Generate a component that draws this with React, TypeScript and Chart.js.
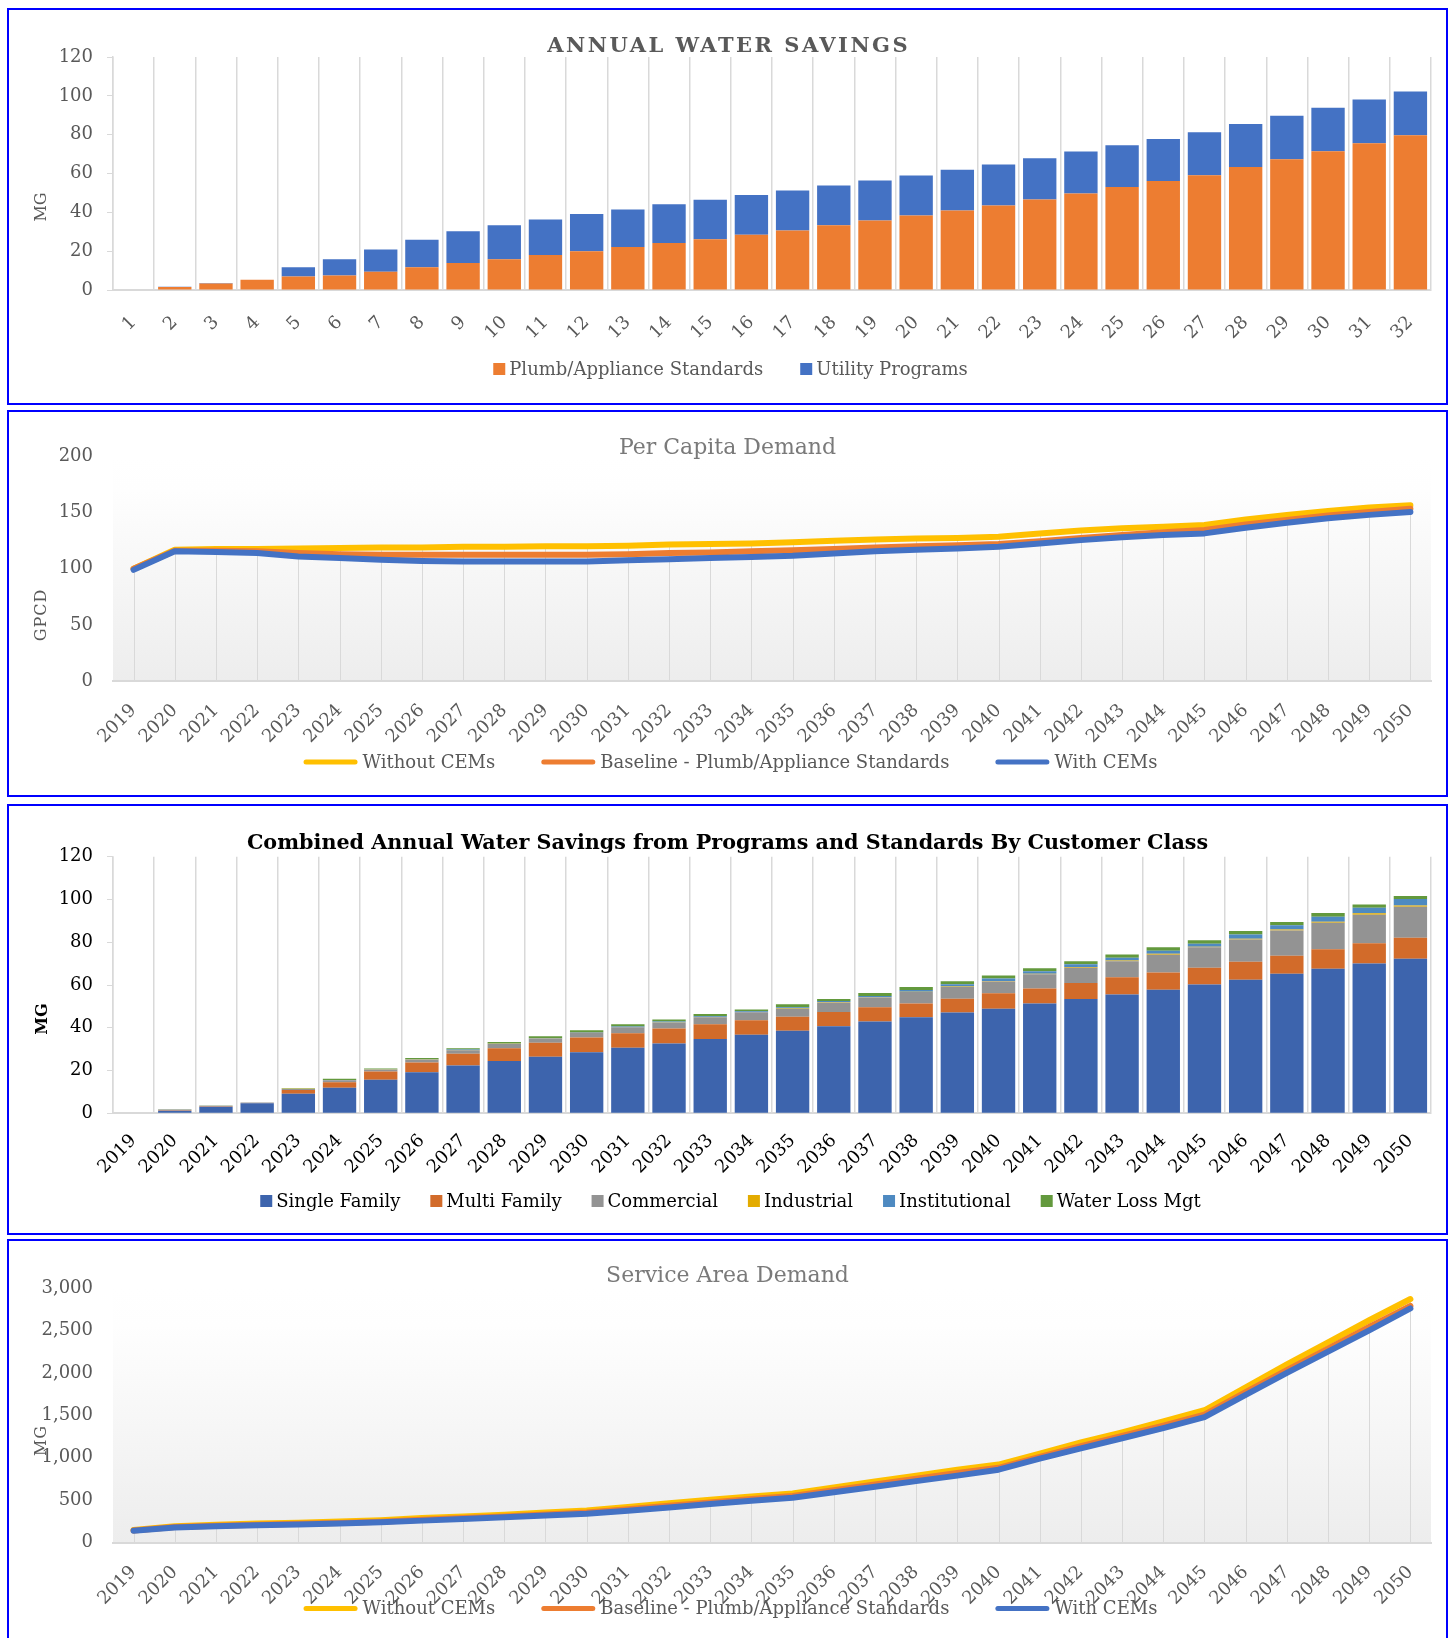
import React, { useEffect, useRef } from 'react';
import { Chart, registerables } from 'chart.js';

Chart.register(...registerables);

const FONT = "'DejaVu Serif', serif";

// ---------- Chart 1: Annual Water Savings ----------
const annualCategories = ['1', '2', '3', '4', '5', '6', '7', '8', '9', '10', '11', '12', '13', '14', '15', '16',
  '17', '18', '19', '20', '21', '22', '23', '24', '25', '26', '27', '28', '29', '30', '31', '32'];
const plumbStandards = [0, 1.5, 3.4, 5.3, 7.0, 7.5, 9.4, 11.7, 13.9, 15.8, 18.0, 19.9, 22.1, 24.2, 26.2, 28.5,
  30.7, 33.3, 35.8, 38.4, 41.0, 43.5, 46.6, 49.7, 53.0, 56.1, 59.1, 63.3, 67.4, 71.5, 75.6, 79.7];
const utilityPrograms = [0, 0.2, 0.2, 0, 4.7, 8.4, 11.5, 14.2, 16.4, 17.6, 18.3, 19.2, 19.4, 20.0, 20.3, 20.4,
  20.6, 20.5, 20.6, 20.6, 20.9, 21.1, 21.3, 21.6, 21.6, 21.7, 22.2, 22.2, 22.3, 22.4, 22.5, 22.5];

// ---------- Shared year labels ----------
const years = ['2019', '2020', '2021', '2022', '2023', '2024', '2025', '2026', '2027', '2028', '2029', '2030',
  '2031', '2032', '2033', '2034', '2035', '2036', '2037', '2038', '2039', '2040', '2041', '2042', '2043', '2044',
  '2045', '2046', '2047', '2048', '2049', '2050'];

// ---------- Chart 2: Per Capita Demand (GPCD) ----------
const gpcdWithoutCEMs = [100, 117, 117.5, 117.5, 118, 118.5, 119, 119, 119.5, 119.5, 120, 120, 120.5, 121.5, 122, 122.5,
  123.5, 125, 126, 127, 127.5, 128.5, 131.5, 134, 136, 137.5, 139, 144, 148, 151.5, 154.5, 156.5];
const gpcdBaseline = [100, 116, 116, 115.5, 114, 113, 112.5, 112.5, 112.5, 112.5, 112.5, 112.5, 113, 114, 114.5, 115.5,
  116.5, 117.5, 119, 120, 121, 122, 124.5, 127.5, 130, 132.5, 134.5, 139.5, 143.5, 147.5, 150.5, 153.5];
const gpcdWithCEMs = [99, 115.5, 115, 114, 111, 109.5, 108, 107, 106.5, 106.5, 106.5, 106.5, 107.5, 108.5, 109.5, 110.5,
  111.5, 113.5, 115.5, 117, 118, 119.5, 122.5, 125.5, 128, 130, 131.5, 136.5, 141, 145, 148, 150.5];

// ---------- Chart 3: Savings by Customer Class ----------
const singleFamily = [0, 1.25, 3.1, 4.7, 9.2, 12.0, 15.7, 19.2, 22.3, 24.5, 26.5, 28.5, 30.7, 32.7, 34.8, 36.7,
  38.6, 40.7, 42.9, 44.9, 47.1, 48.9, 51.3, 53.5, 55.6, 57.8, 60.2, 62.5, 65.3, 67.6, 70.0, 72.3];
const multiFamily = [0, 0.2, 0.2, 0.1, 1.7, 2.5, 3.9, 4.5, 5.6, 5.9, 6.5, 7.0, 6.7, 6.9, 6.8, 6.8,
  6.6, 6.7, 6.7, 6.5, 6.5, 7.2, 7.1, 7.4, 8.0, 8.0, 7.9, 8.4, 8.4, 9.1, 9.5, 9.8];
const commercial = [0, 0.3, 0.2, 0.2, 0.5, 0.9, 0.8, 1.4, 1.6, 2.0, 1.9, 2.1, 2.8, 2.8, 3.3, 3.7,
  3.6, 4.3, 4.5, 5.3, 5.5, 5.5, 6.6, 7.2, 7.5, 8.4, 9.5, 10.4, 11.8, 12.4, 13.4, 14.5];
const industrial = [0, 0, 0, 0, 0.05, 0.1, 0.1, 0.1, 0.1, 0.1, 0.1, 0.1, 0.1, 0.1, 0.1, 0.1,
  0.2, 0.2, 0.2, 0.2, 0.2, 0.3, 0.3, 0.3, 0.3, 0.4, 0.3, 0.3, 0.4, 0.5, 0.6, 0.6];
const institutional = [0, 0, 0, 0, 0.05, 0.1, 0.1, 0.1, 0.2, 0.2, 0.2, 0.3, 0.3, 0.4, 0.4, 0.4,
  0.6, 0.6, 0.6, 0.8, 1.0, 1.1, 1.1, 1.3, 1.3, 1.4, 1.4, 2.0, 2.0, 2.3, 2.6, 3.0];
const waterLossMgt = [0, 0.15, 0.1, 0.1, 0.2, 0.5, 0.4, 0.6, 0.6, 0.6, 0.8, 0.8, 1.0, 1.0, 1.0, 0.9,
  1.4, 1.0, 1.4, 1.4, 1.4, 1.5, 1.4, 1.4, 1.6, 1.6, 1.6, 1.6, 1.6, 1.8, 1.6, 1.4];

// ---------- Chart 4: Service Area Demand (MG) ----------
const demandWithoutCEMs = [150, 195, 210, 225, 235, 250, 265, 290, 310, 330, 355, 380, 420, 465, 505, 545,
  580, 650, 720, 790, 860, 920, 1050, 1180, 1300, 1430, 1560, 1830, 2100, 2360, 2620, 2870];
const demandBaseline = [145, 185, 200, 212, 222, 233, 248, 270, 290, 310, 332, 355, 393, 435, 475, 515,
  550, 617, 685, 753, 820, 882, 1012, 1137, 1257, 1380, 1508, 1772, 2032, 2287, 2542, 2790];
const demandWithCEMs = [140, 180, 195, 205, 215, 225, 240, 260, 280, 300, 320, 340, 375, 415, 455, 495,
  530, 595, 660, 725, 790, 860, 990, 1110, 1230, 1350, 1480, 1740, 2000, 2250, 2500, 2760];

// ---------- plugins ----------
type TextItem = {
  text: string; x: number; y: number; font: string; color: string;
  rotation?: number; letterSpacing?: number; baseline?: CanvasTextBaseline;
};

function makeOverlayText(items: TextItem[]) {
  return {
    id: 'overlayText',
    afterDraw(chart: any) {
      const ctx = chart.ctx as CanvasRenderingContext2D;
      items.forEach((it) => {
        ctx.save();
        ctx.font = it.font;
        ctx.fillStyle = it.color;
        ctx.textAlign = 'center';
        ctx.textBaseline = it.baseline || 'alphabetic';
        if (it.letterSpacing) (ctx as any).letterSpacing = it.letterSpacing + 'px';
        ctx.translate(it.x + (it.letterSpacing && !it.rotation ? it.letterSpacing / 2 : 0), it.y);
        if (it.rotation) ctx.rotate(it.rotation);
        ctx.fillText(it.text, 0, 0);
        ctx.restore();
      });
    },
  };
}

type LegendCfg = {
  y: number; cx: number; box: number; boxH: number; gap: number; spacing: number;
  font: string; color: string; kind: 'bar' | 'line';
};

function makeLegend(cfg: LegendCfg) {
  return {
    id: 'customLegend',
    afterDraw(chart: any) {
      const ctx = chart.ctx as CanvasRenderingContext2D;
      ctx.save();
      ctx.font = cfg.font;
      const items = chart.data.datasets.map((ds: any) => ({
        text: ds.label as string,
        color: (cfg.kind === 'line' ? ds.borderColor : ds.backgroundColor) as string,
        w: ctx.measureText(ds.label).width,
      }));
      const total = items.reduce((s: number, it: any) => s + cfg.box + cfg.gap + it.w, 0) + cfg.spacing * (items.length - 1);
      let x = cfg.cx - total / 2;
      ctx.textBaseline = 'middle';
      ctx.textAlign = 'left';
      items.forEach((it: any) => {
        ctx.fillStyle = it.color;
        if (cfg.kind === 'line') {
          ctx.strokeStyle = it.color;
          ctx.lineWidth = cfg.boxH;
          ctx.lineCap = 'round';
          ctx.beginPath();
          ctx.moveTo(x + cfg.boxH / 2, cfg.y);
          ctx.lineTo(x + cfg.box - cfg.boxH / 2, cfg.y);
          ctx.stroke();
        } else {
          ctx.fillRect(x, cfg.y - cfg.boxH / 2, cfg.box, cfg.boxH);
        }
        ctx.fillStyle = cfg.color;
        ctx.fillText(it.text, x + cfg.box + cfg.gap, cfg.y + 1);
        x += cfg.box + cfg.gap + it.w + cfg.spacing;
      });
      ctx.restore();
    },
  };
}

const dropLinesPlugin = {
  id: 'dropLines',
  beforeDatasetsDraw(chart: any) {
    const { ctx, scales } = chart;
    const x = scales.x;
    const y = scales.y;
    const n = chart.data.labels.length;
    ctx.save();
    ctx.strokeStyle = '#d9d9d9';
    ctx.lineWidth = 1;
    for (let i = 0; i < n; i++) {
      let maxV = -Infinity;
      chart.data.datasets.forEach((ds: any) => {
        const v = ds.data[i];
        if (v > maxV) maxV = v;
      });
      const px = Math.round(x.getPixelForValue(i)) + 0.5;
      ctx.beginPath();
      ctx.moveTo(px, y.getPixelForValue(maxV));
      ctx.lineTo(px, y.getPixelForValue(0));
      ctx.stroke();
    }
    ctx.restore();
  },
};

const plotGradientPlugin = {
  id: 'plotGradient',
  beforeDraw(chart: any) {
    const { ctx, chartArea: a } = chart;
    const g = ctx.createLinearGradient(0, a.top, 0, a.bottom);
    g.addColorStop(0, '#ffffff');
    g.addColorStop(0.15, '#fefefe');
    g.addColorStop(1, '#ededed');
    ctx.save();
    ctx.fillStyle = g;
    ctx.fillRect(a.left, a.top, a.right - a.left, a.bottom - a.top);
    ctx.restore();
  },
};

const W = 1437;
const PAD_X = 15;
const Y_AXIS_W = 89;
const LEGEND_CX = 721.5;

function xAxisFit(h: number) {
  return (s: any) => {
    s.height = h;
    s.paddingLeft = 0;
    s.paddingRight = 0;
  };
}
function yAxisFit(s: any) {
  s.width = Y_AXIS_W;
}

const tickFont = { family: FONT, size: 18 };
const X_H = 80;

// ---------- configs ----------
function annualConfig(): any {
  const H = 393;
  return {
    type: 'bar',
    data: {
      labels: annualCategories,
      datasets: [
        { label: 'Plumb/Appliance Standards', data: plumbStandards, backgroundColor: '#ED7D31', stack: 's' },
        { label: 'Utility Programs', data: utilityPrograms, backgroundColor: '#4472C4', stack: 's' },
      ],
    },
    options: {
      animation: false, responsive: false, devicePixelRatio: 1, events: [],
      datasets: { bar: { barPercentage: 0.81, categoryPercentage: 1 } },
      layout: { padding: { left: PAD_X, right: PAD_X, top: 47, bottom: H - 280 - X_H } },
      scales: {
        x: {
          stacked: true,
          grid: { color: '#d9d9d9', lineWidth: 1.5, drawTicks: false, offset: true },
          border: { color: '#d9d9d9', width: 2 },
          ticks: { color: '#595959', font: tickFont, minRotation: 45, maxRotation: 45, padding: 22, autoSkip: false },
          afterFit: xAxisFit(X_H),
        },
        y: {
          stacked: true, min: 0, max: 120,
          ticks: { stepSize: 20, color: '#595959', font: tickFont, padding: 14 },
          grid: { display: true, drawOnChartArea: false, drawTicks: true, tickLength: 6, color: '#d9d9d9' },
          border: { color: '#d9d9d9', width: 1.5 },
          afterFit: yAxisFit,
        },
      },
      plugins: { tooltip: { enabled: false }, legend: { display: false } },
    },
    plugins: [
      makeOverlayText([
        { text: 'ANNUAL WATER SAVINGS', x: W / 2, y: 42, font: `bold 21px ${FONT}`, color: '#595959', letterSpacing: 2.5 },
        { text: 'MG', x: 33, y: 197, font: `16px ${FONT}`, color: '#595959', rotation: -Math.PI / 2, baseline: 'middle' },
      ]),
      makeLegend({ y: 359, cx: LEGEND_CX, box: 12, boxH: 12, gap: 4, spacing: 37, font: `18px ${FONT}`, color: '#595959', kind: 'bar' }),
    ],
  };
}

function lineConfig(opts: {
  withoutData: number[]; baselineData: number[]; withData: number[];
  max: number; step: number; top: number; bottom: number; H: number; legendY: number;
  title: string; titleY: number; axisTitle: string; axisTitleY: number;
}): any {
  const common = { pointRadius: 0, borderWidth: 6, tension: 0, borderJoinStyle: 'round', borderCapStyle: 'round', fill: false };
  return {
    type: 'line',
    data: {
      labels: years,
      datasets: [
        { label: 'Without CEMs', data: opts.withoutData, borderColor: '#FFC000', backgroundColor: '#FFC000', order: 3, ...common },
        { label: 'Baseline - Plumb/Appliance Standards', data: opts.baselineData, borderColor: '#ED7D31', backgroundColor: '#ED7D31', order: 2, ...common },
        { label: 'With CEMs', data: opts.withData, borderColor: '#4472C4', backgroundColor: '#4472C4', order: 1, ...common },
      ],
    },
    options: {
      animation: false, responsive: false, devicePixelRatio: 1, events: [],
      layout: { padding: { left: PAD_X, right: PAD_X, top: opts.top, bottom: opts.H - opts.bottom - X_H } },
      scales: {
        x: {
          offset: true,
          grid: { display: false, drawTicks: false },
          border: { color: '#d9d9d9', width: 2 },
          ticks: { color: '#595959', font: tickFont, minRotation: 45, maxRotation: 45, padding: 19, autoSkip: false },
          afterFit: xAxisFit(X_H),
        },
        y: {
          min: 0, max: opts.max,
          ticks: { stepSize: opts.step, color: '#595959', font: tickFont, padding: 20 },
          grid: { display: false, drawTicks: false },
          border: { display: false },
          afterFit: yAxisFit,
        },
      },
      plugins: { tooltip: { enabled: false }, legend: { display: false } },
    },
    plugins: [
      plotGradientPlugin,
      dropLinesPlugin,
      makeOverlayText([
        { text: opts.title, x: W / 2, y: opts.titleY, font: `22px ${FONT}`, color: '#7a7a7a' },
        { text: opts.axisTitle, x: 33, y: opts.axisTitleY, font: `16px ${FONT}`, color: '#595959', rotation: -Math.PI / 2, baseline: 'middle', letterSpacing: 1 },
      ]),
      makeLegend({ y: opts.legendY, cx: LEGEND_CX, box: 54, boxH: 5, gap: 5, spacing: 46, font: `18px ${FONT}`, color: '#595959', kind: 'line' }),
    ],
  };
}

function customerConfig(): any {
  const H = 427;
  const mk = (label: string, data: number[], color: string) => ({ label, data, backgroundColor: color, stack: 's' });
  return {
    type: 'bar',
    data: {
      labels: years,
      datasets: [
        mk('Single Family', singleFamily, '#3D64AD'),
        mk('Multi Family', multiFamily, '#D26B2A'),
        mk('Commercial', commercial, '#939393'),
        mk('Industrial', industrial, '#E3AB00'),
        mk('Institutional', institutional, '#4E8AC1'),
        mk('Water Loss Mgt', waterLossMgt, '#63993D'),
      ],
    },
    options: {
      animation: false, responsive: false, devicePixelRatio: 1, events: [],
      datasets: { bar: { barPercentage: 0.81, categoryPercentage: 1 } },
      layout: { padding: { left: PAD_X, right: PAD_X, top: 50.7, bottom: H - 307.3 - X_H } },
      scales: {
        x: {
          stacked: true,
          grid: { color: '#d9d9d9', lineWidth: 1.5, drawTicks: false, offset: true },
          border: { color: '#d9d9d9', width: 2 },
          ticks: { color: '#000000', font: tickFont, minRotation: 45, maxRotation: 45, padding: 17, autoSkip: false },
          afterFit: xAxisFit(X_H),
        },
        y: {
          stacked: true, min: 0, max: 120,
          ticks: { stepSize: 20, color: '#000000', font: tickFont, padding: 14 },
          grid: { display: true, drawOnChartArea: false, drawTicks: true, tickLength: 6, color: '#d9d9d9' },
          border: { color: '#d9d9d9', width: 1.5 },
          afterFit: yAxisFit,
        },
      },
      plugins: { tooltip: { enabled: false }, legend: { display: false } },
    },
    plugins: [
      makeOverlayText([
        { text: 'Combined Annual Water Savings from Programs and Standards By Customer Class', x: W / 2, y: 42.7, font: `bold 20.7px ${FONT}`, color: '#000000' },
        { text: 'MG', x: 34, y: 213, font: `bold 16px ${FONT}`, color: '#000000', rotation: -Math.PI / 2, baseline: 'middle' },
      ]),
      makeLegend({ y: 395, cx: LEGEND_CX, box: 12, boxH: 12, gap: 4, spacing: 30, font: `18px ${FONT}`, color: '#000000', kind: 'bar' }),
    ],
  };
}

function ChartPanel({ make, top, height }: { make: () => any; top: number; height: number }) {
  const ref = useRef<HTMLCanvasElement>(null);
  useEffect(() => {
    const chart = new Chart(ref.current as HTMLCanvasElement, make());
    return () => chart.destroy();
  }, []);
  return (
    <div style={{ position: 'absolute', left: 7, top, width: W, height, border: '2px solid #0000ff', background: '#ffffff' }}>
      <canvas ref={ref} width={W} height={height} style={{ display: 'block', width: W, height }} />
    </div>
  );
}

export default function App() {
  return (
    <div style={{ position: 'fixed', left: 0, top: 0, width: 1453, height: 1638, overflow: 'hidden', background: '#ffffff' }}>
      <ChartPanel make={annualConfig} top={8} height={393} />
      <ChartPanel
        make={() => lineConfig({
          withoutData: gpcdWithoutCEMs, baselineData: gpcdBaseline, withData: gpcdWithCEMs,
          max: 200, step: 50, top: 44.5, bottom: 269, H: 383, legendY: 350,
          title: 'Per Capita Demand', titleY: 42, axisTitle: 'GPCD', axisTitleY: 203,
        })}
        top={410}
        height={383}
      />
      <ChartPanel make={customerConfig} top={804} height={427} />
      <ChartPanel
        make={() => lineConfig({
          withoutData: demandWithoutCEMs, baselineData: demandBaseline, withData: demandWithCEMs,
          max: 3000, step: 500, top: 47, bottom: 301.7, H: 406, legendY: 367.5,
          title: 'Service Area Demand', titleY: 40.7, axisTitle: 'MG', axisTitleY: 199.5,
        })}
        top={1239}
        height={406}
      />
    </div>
  );
}
